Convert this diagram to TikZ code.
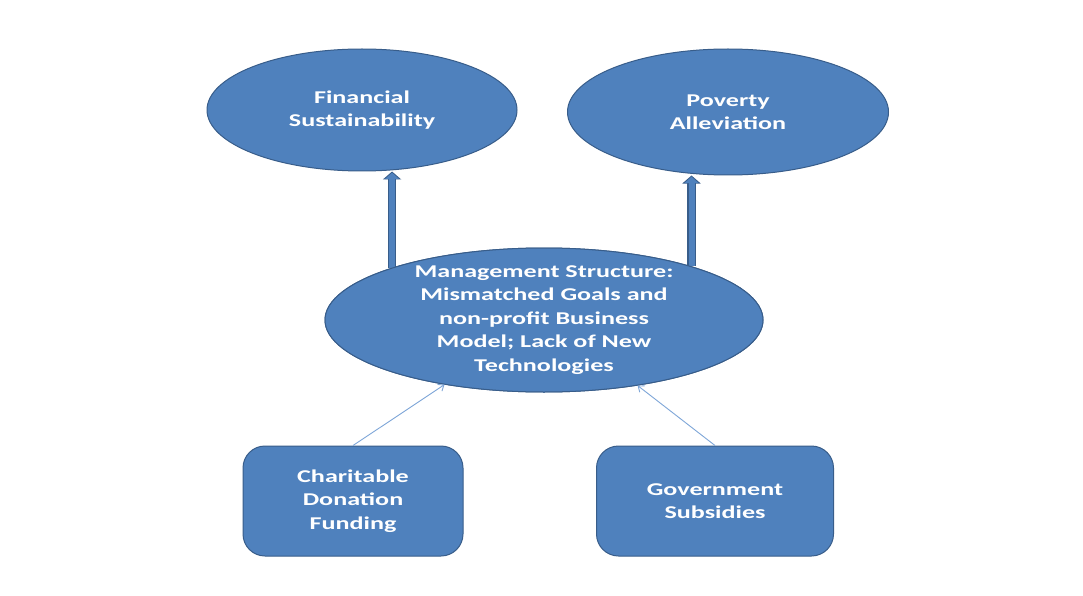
\documentclass[tikz,border=0pt]{standalone}
\usepackage{fontspec}
\setmainfont{Carlito}[FakeStretch=1.45]
\usetikzlibrary{arrows.meta,shapes.geometric}
\definecolor{offblue}{HTML}{4F81BD}
\definecolor{offline}{HTML}{385D8A}
\definecolor{thinblue}{HTML}{7EA6D8}
\tikzset{
  lbl/.style={text=white, font=\fontsize{18}{23.5}\selectfont\bfseries, align=center},
  oval/.style={ellipse, fill=offblue, draw=offline, line width=1pt, inner sep=0pt, lbl},
  rbox/.style={rectangle, rounded corners=22pt, fill=offblue, draw=offline, line width=1pt, inner sep=0pt, lbl},
  bigarrow/.style={draw=offline, line width=8.5pt, -{Triangle[width=18pt,length=8pt]}},
  bigarrowin/.style={draw=offblue, line width=6pt, -{Triangle[width=14pt,length=6.5pt]}, shorten >=1.2pt},
  thinarrow/.style={draw=thinblue, line width=0.9pt, -{Straight Barb[length=5pt,width=8pt]}}
}
\begin{document}
\begin{tikzpicture}[x=1pt,y=-1pt]
\useasboundingbox (0,0) rectangle (1083,596);
\fill[white] (0,0) rectangle (1083,596);
\node[oval, minimum width=310pt, minimum height=122pt] (fin) at (362,110) {Financial\\Sustainability};
\node[oval, minimum width=321pt, minimum height=126pt] (pov) at (728,112) {Poverty\\Alleviation};
\node[oval, minimum width=438pt, minimum height=144pt] (mid) at (544,320) {};
\node[rbox, minimum width=220pt, minimum height=110pt] (cha) at (353,501) {Charitable\\Donation\\Funding};
\node[rbox, minimum width=237pt, minimum height=110pt] (gov) at (715,501) {Government\\Subsidies};
% thick arrows
\draw[bigarrow] (mid.161) -- (mid.161 |- fin.south);
\draw[bigarrowin] (mid.161) -- (mid.161 |- fin.south);
\draw[bigarrow] (mid.20.6) -- (mid.20.6 |- pov.south);
\draw[bigarrowin] (mid.20.6) -- (mid.20.6 |- pov.south);
% redraw middle ellipse on top of arrow bases
\node[oval, minimum width=438pt, minimum height=144pt] (midtop) at (544,320) {};
\node[lbl] (midtext) at (mid.center) {Management Structure:\\Mismatched Goals and\\non-profit Business\\Model; Lack of New\\Technologies};
% thin arrows
\draw[thinarrow] (cha.north) -- (mid.213);
\draw[thinarrow] (gov.north) -- (mid.325);
\end{tikzpicture}
\end{document}
